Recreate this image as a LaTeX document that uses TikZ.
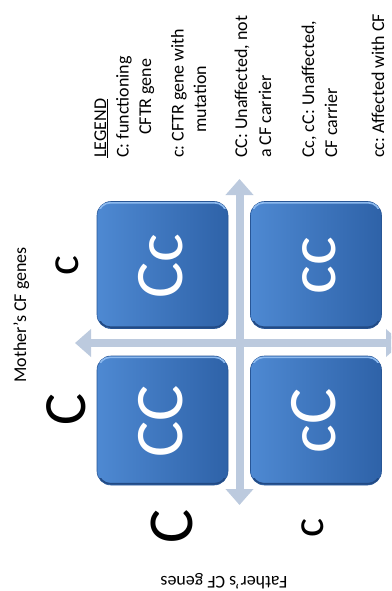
\documentclass[tikz,border=0pt]{standalone}
\usepackage{fontspec}
\setmainfont{Carlito}
\usetikzlibrary{arrows.meta}
\frenchspacing
\definecolor{boxL}{RGB}{78,137,210}
\definecolor{boxR}{RGB}{46,98,168}
\definecolor{boxEdge}{RGB}{40,86,150}
\definecolor{boxShade}{RGB}{34,74,132}
\definecolor{arrowC}{RGB}{188,202,222}
\definecolor{hiC}{RGB}{140,185,238}
\tikzset{
  cell/.style={rectangle, rounded corners=14pt, minimum width=131pt, minimum height=127pt,
    inner sep=0pt, left color=boxL, right color=boxR, draw=boxEdge, line width=0.6pt},
  celltext/.style={rotate=90, anchor=base, text=white, inner sep=0pt,
    font=\fontsize{68}{68}\selectfont},
  legendtext/.style={rotate=90, anchor=base west, inner sep=0pt,
    font=\fontsize{18}{22}\selectfont},
  axislabel/.style={anchor=base, inner sep=0pt, font=\fontsize{18}{22}\selectfont},
  bigletter/.style={rotate=90, anchor=base, inner sep=0pt},
  axisarrow/.style={draw=arrowC, line width=8pt,
    {Triangle[width=27pt,length=16pt]}-{Triangle[width=27pt,length=16pt]}}
}
\begin{document}
\begin{tikzpicture}[x=1pt,y=-1pt]
\useasboundingbox (0,0) rectangle (391,591);
\clip (0,0) rectangle (391,591);

% axes arrows
\coordinate (vtop) at (239.5,179);
\coordinate (vbot) at (239.5,505);
\coordinate (hleft) at (75,343);
\coordinate (hright) at (402,343);
\draw[axisarrow] (vtop) -- (vbot);
\draw[axisarrow] (hleft) -- (hright);

% cells
\node[cell] (tl) at (162.5,265) {};
\node[cell] (tr) at (316,265) {};
\node[cell, minimum height=129pt] (bl) at (162.5,420.5) {};
\node[cell, minimum height=129pt] (br) at (316,420.5) {};
\foreach \c in {tl,tr,bl,br}{
  \begin{scope}
    \clip ([yshift=1pt]\c.north west) rectangle ([yshift=-7pt]\c.north east);
    \draw[hiC, line width=1.6pt, rounded corners=12pt]
      ([shift={(1.6pt,-1.6pt)}]\c.north west) rectangle ([shift={(-1.6pt,1.6pt)}]\c.south east);
  \end{scope}
  \begin{scope}
    \clip ([yshift=-1pt]\c.south west) rectangle ([yshift=7pt]\c.south east);
    \draw[boxShade, line width=1.6pt, rounded corners=12pt]
      ([shift={(1.6pt,-1.6pt)}]\c.north west) rectangle ([shift={(-1.6pt,1.6pt)}]\c.south east);
  \end{scope}
}
\node[celltext] (tlt) at (182,266) {Cc};
\node[celltext] (trt) at (335,266) {cc};
\node[celltext] (blt) at (182,421) {CC};
\node[celltext] (brt) at (335,421) {cC};

% parent labels
\node[bigletter, font=\fontsize{60}{60}\selectfont] (mC) at (85,409.5) {C};
\node[bigletter, font=\fontsize{47}{47}\selectfont] (mc) at (78,266) {c};
\node[bigletter, font=\fontsize{64}{64}\selectfont] (fC) at (192,526.5) {C};
\node[bigletter, font=\fontsize{45}{45}\selectfont] (fc) at (323,527.5) {c};
\node[legendtext] (mother) at (26,383) {Mother’s CF genes};
\node[axislabel, rotate=180] (father) at (224,576) {Father’s CF genes};

% legend
\node[legendtext] (lg0) at (106,158) {\underline{LEGEND}};
\node[legendtext] (lg1) at (128.5,158) {C: functioning};
\node[legendtext] (lg2) at (151,135) {CFTR gene};
\node[legendtext] (lg3) at (183.5,158) {c: CFTR gene with};
\node[legendtext] (lg4) at (206,133) {mutation};
\node[legendtext] (lg5) at (247,158) {CC: Unaffected, not};
\node[legendtext] (lg6) at (271,158) {a CF carrier};
\node[legendtext] (lg7) at (314,158) {Cc, cC: Unaffected,};
\node[legendtext] (lg8) at (337,158) {CF carrier};
\node[legendtext] (lg9) at (384,158) {cc: Affected with CF};
\end{tikzpicture}
\end{document}
